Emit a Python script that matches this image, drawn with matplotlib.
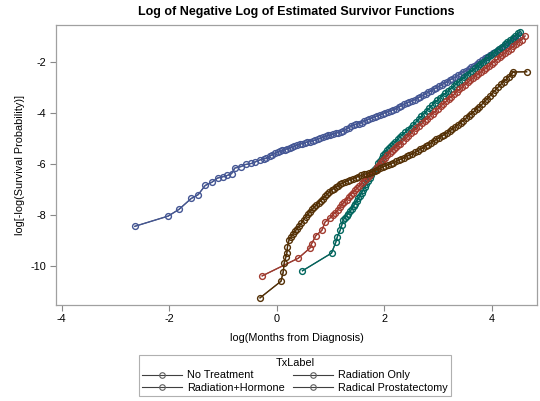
import matplotlib
matplotlib.use("Agg")
import matplotlib.pyplot as plt

plt.rcParams['font.family'] = ['Liberation Sans', 'DejaVu Sans']
plt.rcParams['axes.unicode_minus'] = False

labels = ["No Treatment", "Radiation+Hormone", "Radiation Only", "Radical Prostatectomy"]
colors = ["#445694", "#01665E", "#A23A2E", "#543005"]

nt_x = [-2.64, -2.02, -1.82, -1.59, -1.46, -1.33, -1.21, -1.10, -1.00, -0.92, -0.84, -0.78,
        -0.66, -0.58, -0.47, -0.40, -0.31, -0.24, -0.19, -0.12, -0.08, -0.03, 0.02, 0.06,
        0.10, 0.15, 0.20, 0.25, 0.29, 0.33, 0.38, 0.43, 0.47, 0.52, 0.57, 0.62, 0.67, 0.71,
        0.76, 0.81, 0.86, 0.91, 0.96, 1.00, 1.05, 1.10, 1.14, 1.19, 1.24, 1.29, 1.34, 1.39,
        1.43, 1.48, 1.53, 1.58, 1.63, 1.68, 1.72, 1.77, 1.82, 1.87, 1.92, 1.97, 2.02, 2.07,
        2.12, 2.17, 2.22, 2.27, 2.32, 2.37, 2.42, 2.47, 2.52, 2.57, 2.62, 2.67, 2.72, 2.77,
        2.82, 2.87, 2.92, 2.97, 3.02, 3.07, 3.12, 3.17, 3.22, 3.27, 3.32, 3.37, 3.42, 3.47,
        3.52, 3.57, 3.62, 3.67, 3.72, 3.77, 3.82, 3.87, 3.92, 3.97, 4.02, 4.07, 4.12, 4.17,
        4.22, 4.27, 4.32, 4.37, 4.42, 4.47, 4.52]
nt_y = [-8.44, -8.04, -7.78, -7.35, -7.20, -6.84, -6.72, -6.55, -6.50, -6.45, -6.38, -6.16,
        -6.10, -6.02, -5.98, -5.92, -5.84, -5.80, -5.78, -5.68, -5.64, -5.58, -5.54, -5.50,
        -5.47, -5.44, -5.40, -5.36, -5.33, -5.30, -5.27, -5.23, -5.20, -5.17, -5.14, -5.12,
        -5.09, -5.07, -5.03, -5.00, -4.96, -4.92, -4.88, -4.86, -4.83, -4.80, -4.77, -4.74,
        -4.70, -4.64, -4.58, -4.52, -4.47, -4.45, -4.42, -4.38, -4.33, -4.28, -4.24, -4.20,
        -4.16, -4.12, -4.08, -4.03, -3.99, -3.95, -3.91, -3.88, -3.83, -3.78, -3.72, -3.66,
        -3.62, -3.57, -3.52, -3.48, -3.43, -3.37, -3.31, -3.25, -3.20, -3.14, -3.08, -3.02,
        -2.96, -2.90, -2.84, -2.78, -2.72, -2.66, -2.60, -2.53, -2.47, -2.41, -2.35, -2.29,
        -2.22, -2.15, -2.08, -2.01, -1.94, -1.87, -1.80, -1.73, -1.67, -1.60, -1.53, -1.46,
        -1.39, -1.32, -1.25, -1.18, -1.11, -1.04, -0.98]

rh_x = [0.48, 1.02, 1.10, 1.13, 1.18, 1.21, 1.24, 1.27, 1.30, 1.33, 1.37, 1.40, 1.43, 1.46,
        1.49, 1.52, 1.55, 1.58, 1.61, 1.64, 1.67, 1.70, 1.73, 1.76, 1.80, 1.83, 1.86, 1.89,
        1.92, 1.95, 1.98, 2.01, 2.05, 2.09, 2.13, 2.17, 2.21, 2.25, 2.29, 2.34, 2.39, 2.44,
        2.49, 2.54, 2.59, 2.64, 2.69, 2.74, 2.79, 2.84, 2.89, 2.94, 2.99, 3.04, 3.09, 3.14,
        3.19, 3.24, 3.29, 3.34, 3.39, 3.44, 3.49, 3.54, 3.59, 3.64, 3.69, 3.74, 3.79, 3.84,
        3.89, 3.94, 3.99, 4.04, 4.09, 4.14, 4.19, 4.24, 4.29, 4.34, 4.39, 4.44, 4.49, 4.53]
rh_y = [-10.18, -9.49, -9.06, -8.84, -8.60, -8.40, -8.18, -8.10, -8.02, -7.94, -7.84, -7.75,
        -7.64, -7.55, -7.44, -7.35, -7.24, -7.12, -7.01, -6.90, -6.78, -6.65, -6.54, -6.44,
        -6.28, -6.18, -6.10, -5.98, -5.87, -5.76, -5.66, -5.57, -5.46, -5.38, -5.30, -5.21,
        -5.13, -5.04, -4.95, -4.85, -4.76, -4.67, -4.58, -4.47, -4.36, -4.25, -4.14, -4.03,
        -3.92, -3.81, -3.70, -3.60, -3.50, -3.41, -3.32, -3.23, -3.14, -3.05, -2.96, -2.87,
        -2.78, -2.70, -2.61, -2.52, -2.43, -2.35, -2.26, -2.17, -2.09, -2.00, -1.92, -1.83,
        -1.75, -1.66, -1.58, -1.49, -1.41, -1.32, -1.23, -1.15, -1.06, -0.98, -0.89, -0.82]

ro_x = [-0.27, 0.40, 0.62, 0.65, 0.73, 0.84, 0.90, 0.99, 1.05, 1.09, 1.14, 1.18, 1.22, 1.26,
        1.30, 1.34, 1.38, 1.42, 1.46, 1.50, 1.54, 1.58, 1.62, 1.66, 1.70, 1.74, 1.78, 1.82,
        1.86, 1.90, 1.94, 1.98, 2.02, 2.06, 2.10, 2.14, 2.18, 2.22, 2.26, 2.30, 2.35, 2.40,
        2.45, 2.50, 2.55, 2.60, 2.65, 2.70, 2.75, 2.80, 2.85, 2.90, 2.95, 3.00, 3.05, 3.10,
        3.15, 3.20, 3.25, 3.30, 3.35, 3.40, 3.45, 3.50, 3.55, 3.60, 3.65, 3.70, 3.75, 3.80,
        3.85, 3.90, 3.95, 4.00, 4.05, 4.10, 4.15, 4.20, 4.25, 4.30, 4.35, 4.40, 4.45, 4.50,
        4.56, 4.62]
ro_y = [-10.38, -9.69, -9.29, -9.12, -8.80, -8.60, -8.27, -8.12, -7.98, -7.90, -7.80, -7.68,
        -7.58, -7.48, -7.40, -7.30, -7.20, -7.12, -7.03, -6.94, -6.85, -6.74, -6.66, -6.59,
        -6.52, -6.42, -6.32, -6.22, -6.12, -6.03, -5.93, -5.84, -5.75, -5.66, -5.58, -5.50,
        -5.42, -5.35, -5.27, -5.20, -5.10, -5.00, -4.90, -4.80, -4.70, -4.60, -4.50, -4.41,
        -4.31, -4.22, -4.12, -4.03, -3.93, -3.84, -3.74, -3.64, -3.55, -3.45, -3.36, -3.27,
        -3.17, -3.08, -2.99, -2.90, -2.81, -2.72, -2.64, -2.56, -2.48, -2.40, -2.32, -2.24,
        -2.16, -2.08, -1.99, -1.91, -1.82, -1.74, -1.65, -1.57, -1.48, -1.40, -1.31, -1.23,
        -1.13, -0.99]

rp_x = [-0.31, 0.08, 0.12, 0.14, 0.17, 0.19, 0.20, 0.23, 0.27, 0.30, 0.34, 0.38, 0.42, 0.46,
        0.50, 0.54, 0.58, 0.62, 0.66, 0.70, 0.74, 0.78, 0.82, 0.86, 0.90, 0.94, 0.98, 1.02,
        1.06, 1.10, 1.14, 1.18, 1.22, 1.27, 1.32, 1.37, 1.42, 1.47, 1.52, 1.57, 1.62, 1.67,
        1.72, 1.77, 1.82, 1.87, 1.92, 1.97, 2.02, 2.07, 2.12, 2.17, 2.22, 2.27, 2.32, 2.37,
        2.42, 2.47, 2.52, 2.57, 2.62, 2.67, 2.72, 2.77, 2.82, 2.87, 2.92, 2.97, 3.02, 3.07,
        3.12, 3.17, 3.22, 3.27, 3.32, 3.37, 3.42, 3.47, 3.52, 3.57, 3.62, 3.67, 3.72, 3.77,
        3.82, 3.87, 3.92, 3.97, 4.02, 4.07, 4.12, 4.17, 4.22, 4.27, 4.32, 4.37, 4.40, 4.65]
rp_y = [-11.24, -10.59, -10.24, -9.88, -9.65, -9.47, -9.25, -8.96, -8.85, -8.75, -8.64, -8.53,
        -8.42, -8.30, -8.18, -8.07, -7.97, -7.87, -7.78, -7.69, -7.60, -7.52, -7.44, -7.36,
        -7.27, -7.18, -7.10, -7.02, -6.96, -6.90, -6.85, -6.80, -6.75, -6.70, -6.65, -6.61,
        -6.57, -6.53, -6.49, -6.45, -6.41, -6.38, -6.34, -6.30, -6.26, -6.22, -6.17, -6.12,
        -6.07, -6.03, -5.99, -5.95, -5.90, -5.85, -5.80, -5.75, -5.70, -5.65, -5.60, -5.55,
        -5.49, -5.43, -5.37, -5.31, -5.25, -5.18, -5.11, -5.04, -4.98, -4.91, -4.85, -4.78,
        -4.71, -4.63, -4.55, -4.47, -4.39, -4.30, -4.21, -4.12, -4.03, -3.94, -3.85, -3.76,
        -3.66, -3.55, -3.44, -3.33, -3.21, -3.10, -2.99, -2.88, -2.78, -2.68, -2.58, -2.48,
        -2.40, -2.39]

series_x = [nt_x, rh_x, ro_x, rp_x]
series_y = [nt_y, rh_y, ro_y, rp_y]

xticks = [-4, -2, 0, 2, 4]
yticks = [-2, -4, -6, -8, -10]

fig = plt.figure(figsize=(5.40, 4.01), dpi=100)
ax = fig.add_axes([56/540, 1-304.5/401, (537-56)/540, (304.5-25)/401])

handles = []
for xs, ys, c, lab in zip(series_x, series_y, colors, labels):
    ax.plot(xs, ys, color="#404040", lw=0.7, zorder=2)
    h, = ax.plot(xs, ys, linestyle='-', color=c, lw=1.0, marker='o', markersize=4.2,
                 markerfacecolor='none', markeredgecolor=c, markeredgewidth=1.0,
                 label=lab, zorder=3)
    handles.append(h)

ax.set_xlim(-4.106, 4.843)
ax.set_ylim(-11.5, -0.56)
ax.set_xticks(xticks)
ax.set_yticks(yticks)
ax.tick_params(direction='out', length=4, width=0.8, color='#888888', labelsize=7.8,
               labelcolor='#000000', pad=3)
for s in ax.spines.values():
    s.set_color('#a0a0a0')
    s.set_linewidth(0.9)

ax.set_title("Log of Negative Log of Estimated Survivor Functions", fontsize=9,
             fontweight='bold', pad=7)
ax.set_xlabel("log(Months from Diagnosis)", fontsize=7.8, labelpad=6)
ax.set_ylabel("log[-log(Survival Probability)]", fontsize=7.8, labelpad=4)

leg_handles = []
for c, lab in zip(colors, labels):
    lh, = ax.plot([], [], linestyle='-', color='#404040', lw=0.8, marker='o', markersize=4.0,
                  markerfacecolor='none', markeredgecolor='#606060', markeredgewidth=0.8)
    leg_handles.append(lh)

leg = fig.legend(handles=leg_handles, labels=labels, ncol=2, loc='center',
                 bbox_to_anchor=(295/540, 1-375.5/401), title="TxLabel",
                 fontsize=7.8, title_fontsize=7.8, frameon=True, fancybox=False,
                 handlelength=3.7, handletextpad=0.5, columnspacing=0.7,
                 borderpad=0.3, labelspacing=0.2, edgecolor='#b0b0b0', framealpha=1)
leg.get_frame().set_linewidth(0.8)

fig.savefig("out.png", dpi=100)
